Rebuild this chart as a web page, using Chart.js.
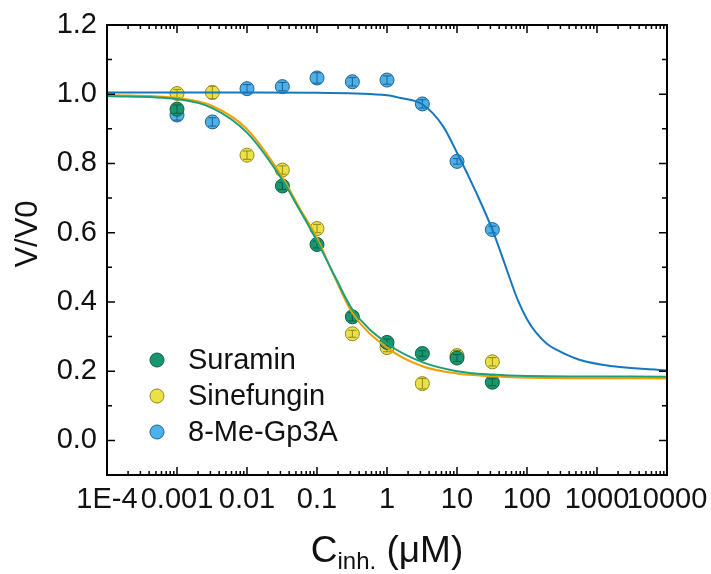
<!DOCTYPE html>
<html>
<head>
<meta charset="utf-8">
<script src="https://cdn.jsdelivr.net/npm/chart.js@4.4.1/dist/chart.umd.min.js"></script>
<style>
  html, body { margin: 0; padding: 0; background: #fff; }
  #wrap { width: 711px; height: 574px; position: relative; }
</style>
</head>
<body>
<div id="wrap"><canvas id="chart" width="711" height="574"></canvas></div>
<script>
// ── measured points (concentration in µM, relative rate V/V0) ──
const concSuramin = [0.001, 0.032, 0.1, 0.32, 1, 3.2, 10, 32];
const vSuramin    = [0.957, 0.735, 0.566, 0.357, 0.283, 0.251, 0.238, 0.168];
const errSuramin  = [0.012, 0.010, 0.010, 0.012, 0.010, 0.008, 0.010, 0.010];

const concSinefungin = [0.001, 0.0032, 0.01, 0.032, 0.1, 0.32, 1, 3.2, 10, 32];
const vSinefungin    = [1.002, 1.005, 0.824, 0.781, 0.612, 0.308, 0.268, 0.164, 0.245, 0.227];
const errSinefungin  = [0.012, 0.018, 0.012, 0.012, 0.012, 0.010, 0.012, 0.015, 0.015, 0.012];

const concMeGp3A = [0.001, 0.0032, 0.01, 0.032, 0.1, 0.32, 1, 3.2, 10, 32];
const vMeGp3A    = [0.940, 0.920, 1.016, 1.022, 1.047, 1.036, 1.041, 0.972, 0.806, 0.609];
const errMeGp3A  = [0.015, 0.012, 0.012, 0.012, 0.015, 0.012, 0.012, 0.012, 0.008, 0.010];

// ── fitted dose-response curves ──
const fitXSuramin = [1e-4, 0.001, 0.0032, 0.01, 0.032, 0.056, 0.1, 0.18, 0.32, 1, 3.2, 10, 32, 100, 10000];
const fitYSuramin = [0.995, 0.986, 0.960, 0.889, 0.752, 0.667, 0.576, 0.474, 0.378, 0.280, 0.226, 0.200, 0.190, 0.186, 0.184];

const fitXSinefungin = [1e-4, 0.001, 0.0032, 0.01, 0.032, 0.056, 0.1, 0.18, 0.32, 1, 3.2, 10, 32, 100, 10000];
const fitYSinefungin = [0.998, 0.989, 0.966, 0.899, 0.760, 0.672, 0.585, 0.470, 0.368, 0.268, 0.214, 0.193, 0.185, 0.181, 0.179];

const fitXMeGp3A = [1e-4, 0.01, 0.1, 1, 1.5, 3.2, 6.3, 10, 18.9, 32, 50, 74, 100, 135, 190, 263, 560, 1700, 10000];
const fitYMeGp3A = [1.005, 1.005, 1.004, 0.997, 0.990, 0.971, 0.908, 0.831, 0.715, 0.609, 0.500, 0.405, 0.350, 0.311, 0.280, 0.262, 0.233, 0.214, 0.202];

// ── axes ──
const xTickValues = [1e-4, 1e-3, 1e-2, 1e-1, 1, 10, 100, 1000, 10000];
const xTickLabels = ['1E-4', '0.001', '0.01', '0.1', '1', '10', '100', '1000', '10000'];
const yTickValues = [0, 0.2, 0.4, 0.6, 0.8, 1.0, 1.2];
const yTickLabels = ['0.0', '0.2', '0.4', '0.6', '0.8', '1.0', '1.2'];

const seriesNames = ['Suramin', 'Sinefungin', '8-Me-Gp3A'];

const FONT = '"Liberation Sans", Arial, sans-serif';

const COLORS = {
    suramin:    { fill: '#17966f', edge: '#0b5e45', line: '#1aa17a' },
    sinefungin: { fill: '#ebe048', edge: '#8f8a1c', line: '#f0a000' },
    megp3a:     { fill: '#4eb0e8', edge: '#1d628e', line: '#1677bf' },
};

function pts(xs, ys) { return xs.map((x, i) => ({ x: x, y: ys[i] })); }

function scatterSet(label, xs, ys, errs, c) {
    return {
        type: 'scatter', label: label, data: pts(xs, ys), errors: errs,
        backgroundColor: c.fill, borderColor: c.edge, borderWidth: 1,
        pointRadius: 7, pointHoverRadius: 7, order: 2, isPoints: true,
    };
}

function curveSet(label, xs, ys, c) {
    return {
        type: 'line', label: label, data: pts(xs, ys),
        borderColor: c.line, borderWidth: 2, pointRadius: 0, fill: false,
        cubicInterpolationMode: 'monotone', order: 1,
    };
}

// error bars drawn right over each scatter set
const errorBars = {
    id: 'errorBars',
    afterDatasetDraw(chart, args) {
        const ds = chart.data.datasets[args.index];
        if (!ds.isPoints) return;
        const ctx = chart.ctx, ys = chart.scales.y;
        ctx.save();
        ctx.strokeStyle = ds.borderColor;
        ctx.lineWidth = 1;
        args.meta.data.forEach((pt, i) => {
            const v = ds.data[i].y, e = ds.errors[i];
            const top = ys.getPixelForValue(v + e), bot = ys.getPixelForValue(v - e);
            ctx.beginPath();
            ctx.moveTo(pt.x, top); ctx.lineTo(pt.x, bot);
            ctx.moveTo(pt.x - 4, top); ctx.lineTo(pt.x + 4, top);
            ctx.moveTo(pt.x - 4, bot); ctx.lineTo(pt.x + 4, bot);
            ctx.stroke();
        });
        ctx.restore();
    }
};

// frame with inward ticks on all four sides, legend and axis titles
const decorations = {
    id: 'decorations',
    afterDraw(chart) {
        const ctx = chart.ctx, a = chart.chartArea;
        const xs = chart.scales.x, ys = chart.scales.y;
        ctx.save();
        ctx.strokeStyle = '#000';

        // x ticks: decades long, 2..9 short
        ctx.lineWidth = 1.5;
        ctx.beginPath();
        for (let d = -4; d <= 4; d++) {
            for (let m = 1; m <= 9; m++) {
                const v = m * Math.pow(10, d);
                if (v > 10000 * 1.0001) continue;
                const px = xs.getPixelForValue(v);
                const len = m === 1 ? 8 : 4;
                ctx.moveTo(px, a.bottom); ctx.lineTo(px, a.bottom - len);
                ctx.moveTo(px, a.top); ctx.lineTo(px, a.top + len);
            }
        }
        // y ticks: every 0.1, labelled ones longer
        for (let k = -1; k <= 12; k++) {
            const py = ys.getPixelForValue(k / 10);
            const len = (k >= 0 && k % 2 === 0) ? 8 : 5;
            ctx.moveTo(a.left, py); ctx.lineTo(a.left + len, py);
            ctx.moveTo(a.right, py); ctx.lineTo(a.right - len, py);
        }
        ctx.stroke();

        ctx.lineWidth = 2;
        ctx.strokeRect(a.left, a.top, a.right - a.left, a.bottom - a.top);

        // legend
        const legendSets = chart.data.datasets.filter(d => d.isPoints);
        ctx.font = '29px ' + FONT;
        ctx.textBaseline = 'middle';
        ctx.textAlign = 'left';
        legendSets.forEach((ds, i) => {
            const y = 360 + i * 36;
            ctx.beginPath();
            ctx.arc(157, y, 7, 0, Math.PI * 2);
            ctx.fillStyle = ds.backgroundColor; ctx.fill();
            ctx.lineWidth = 1; ctx.strokeStyle = ds.borderColor; ctx.stroke();
            ctx.fillStyle = '#111';
            ctx.fillText(ds.label, 188, y + 1);
        });

        // y title
        ctx.save();
        ctx.translate(28, 234);
        ctx.rotate(-Math.PI / 2);
        ctx.font = '31px ' + FONT;
        ctx.textAlign = 'center';
        ctx.textBaseline = 'middle';
        ctx.fillStyle = '#111';
        ctx.fillText('V/V0', 0, 0);
        ctx.restore();

        // x title with subscript
        const big = '37px ' + FONT, small = '24px ' + FONT;
        ctx.textBaseline = 'alphabetic';
        ctx.fillStyle = '#111';
        ctx.font = big; const wC = ctx.measureText('C').width;
        const wTail = ctx.measureText(' (\u03bcM)').width;
        ctx.font = small; const wSub = ctx.measureText('inh.').width;
        let x0 = (a.left + a.right) / 2 - (wC + wSub + wTail) / 2;
        const base = 562;
        ctx.font = big; ctx.fillText('C', x0, base);
        ctx.font = small; ctx.fillText('inh.', x0 + wC, base + 7);
        ctx.font = big; ctx.fillText(' (\u03bcM)', x0 + wC + wSub, base);
        ctx.restore();
    }
};

new Chart(document.getElementById('chart'), {
    data: {
        datasets: [
            scatterSet(seriesNames[0], concSuramin, vSuramin, errSuramin, COLORS.suramin),
            scatterSet(seriesNames[1], concSinefungin, vSinefungin, errSinefungin, COLORS.sinefungin),
            scatterSet(seriesNames[2], concMeGp3A, vMeGp3A, errMeGp3A, COLORS.megp3a),
            curveSet('fit ' + seriesNames[0], fitXSuramin, fitYSuramin, COLORS.suramin),
            curveSet('fit ' + seriesNames[1], fitXSinefungin, fitYSinefungin, COLORS.sinefungin),
            curveSet('fit ' + seriesNames[2], fitXMeGp3A, fitYMeGp3A, COLORS.megp3a),
        ],
    },
    options: {
        responsive: false,
        animation: false,
        devicePixelRatio: 1,
        layout: { padding: { top: 25, right: 44, left: 0, bottom: 0 } },
        plugins: { legend: { display: false }, tooltip: { enabled: false } },
        scales: {
            x: {
                type: 'logarithmic', min: 1e-4, max: 1e4,
                grid: { display: false }, border: { display: false },
                afterBuildTicks: s => { s.ticks = xTickValues.map(v => ({ value: v })); },
                afterFit: s => { s.height = 99; },
                ticks: {
                    autoSkip: false, maxRotation: 0, minRotation: 0, padding: 0,
                    color: '#111', font: { family: FONT, size: 29 },
                    callback: (v, i) => xTickLabels[i],
                },
            },
            y: {
                type: 'linear', min: -0.1, max: 1.2,
                grid: { display: false }, border: { display: false },
                afterBuildTicks: s => { s.ticks = yTickValues.map(v => ({ value: v })); },
                afterFit: s => { s.width = 107; },
                ticks: {
                    padding: 2, color: '#111', font: { family: FONT, size: 29 },
                    callback: (v, i) => yTickLabels[i],
                },
            },
        },
    },
    plugins: [errorBars, decorations],
});
</script>
</body>
</html>
